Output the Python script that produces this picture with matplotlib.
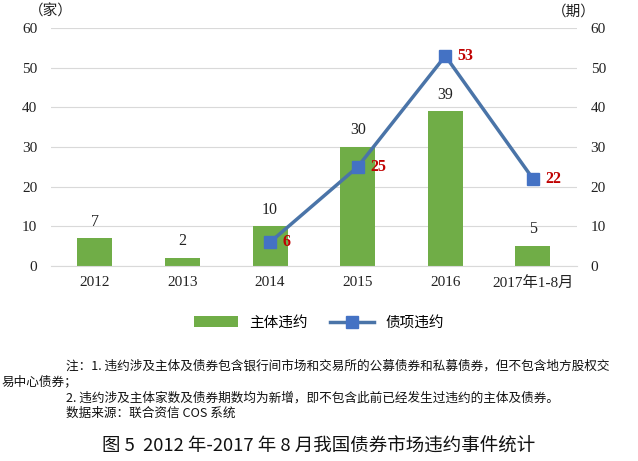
import numpy as np
from matplotlib import pyplot as plt

plt.rcParams['font.family'] = ['Liberation Serif', 'Noto Sans CJK SC']

years = ['2012', '2013', '2014', '2015', '2016', '2017年1-8月']
entity_defaults = [7, 2, 10, 30, 39, 5]
bond_line_x = [2, 3, 4, 5]
bond_defaults = [6, 25, 53, 22]

note_lines = [
    '注：1. 违约涉及主体及债券包含银行间市场和交易所的公募债券和私募债券，但不包含地方股权交',
    '易中心债券；',
    '2. 违约涉及主体家数及债券期数均为新增，即不包含此前已经发生过违约的主体及债券。',
    '数据来源：联合资信 COS 系统',
]
title = '图 5  2012 年-2017 年 8 月我国债券市场违约事件统计'

fig = plt.figure(figsize=(6.38, 4.61), dpi=100)
ax = fig.add_axes([0.080, 0.423, 0.824, 0.516])
ax2 = ax.twinx()

x = np.arange(len(years))
bars = ax.bar(x, entity_defaults, width=0.4, color='#70AD47', label='主体违约', zorder=2)
for xi, v in zip(x, entity_defaults):
    ax.text(xi, v + 2.2, str(v), ha='center', va='bottom', fontsize=11.5, color='#222222')

line, = ax2.plot(bond_line_x, bond_defaults, color='#4A74A8', linewidth=2.5,
                 marker='s', markersize=8, markerfacecolor='#4472C4',
                 markeredgecolor='#4472C4', label='债项违约', zorder=3)
for xi, v in zip(bond_line_x, bond_defaults):
    ax2.text(xi + 0.14, v, str(v), ha='left', va='center', fontsize=11.5,
             color='#C00000', fontweight='bold')

for a in (ax, ax2):
    a.set_ylim(0, 60)
    a.set_yticks(range(0, 61, 10))
    for s in a.spines.values():
        s.set_visible(False)
    a.tick_params(axis='y', length=0, labelsize=11, labelcolor='#222222', pad=10)
ax.spines['bottom'].set_visible(True)
ax.spines['bottom'].set_color('#D9D9D9')
ax.set_xlim(-0.5, 5.5)
ax.set_xticks(x)
ax.set_xticklabels(years)
ax.tick_params(axis='x', length=0, labelsize=11, labelcolor='#222222', pad=7)
ax.grid(axis='y', color='#D9D9D9', linewidth=0.8, zorder=0)
ax.set_axisbelow(True)
ax2.set_zorder(ax.get_zorder() + 1)
ax2.patch.set_visible(False)

fig.text(0.045, 0.975, '（家）', fontsize=10.5, ha='left', va='center', color='#222222',
         family=['Noto Sans CJK SC'])
fig.text(0.865, 0.975, '（期）', fontsize=10.5, ha='left', va='center', color='#222222',
         family=['Noto Sans CJK SC'])

fig.legend(handles=[bars, line], loc='center', bbox_to_anchor=(0.5, 0.30), ncol=2,
           frameon=False, handlelength=3.0, columnspacing=1.5,
           prop={'family': ['Noto Sans CJK SC'], 'size': 10.5})

note_pos = [(0.103, 0.206), (0.003, 0.172), (0.103, 0.137), (0.103, 0.104)]
for (tx, ty), s in zip(note_pos, note_lines):
    fig.text(tx, ty, s, fontsize=9.1, ha='left', va='center', color='#111111',
             family=['Noto Sans CJK SC', 'DejaVu Sans'])

fig.text(0.5, 0.03, title, fontsize=13.3, ha='center', va='center', color='#111111',
         family=['Noto Sans CJK SC', 'DejaVu Sans'])

fig.savefig('out.png', dpi=100)
